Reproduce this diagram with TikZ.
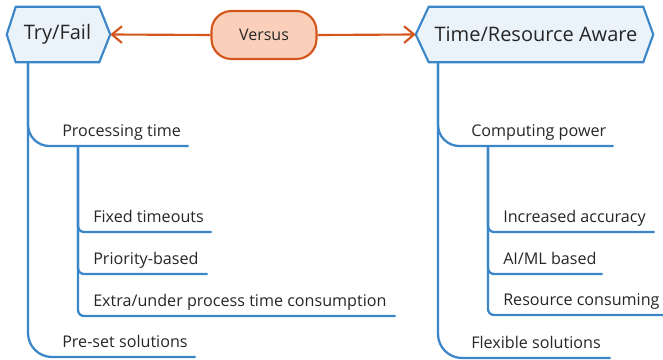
\documentclass[tikz,border=0pt]{standalone}
\usepackage{fontspec}
\setmainfont{Open Sans}
\usetikzlibrary{arrows.meta,backgrounds}
\definecolor{bl}{HTML}{3A86C8}
\definecolor{hexfill}{HTML}{EAF2FA}
\definecolor{org}{HTML}{D4561C}
\definecolor{orgfill}{HTML}{FAD0BA}
\definecolor{txt}{HTML}{262626}
\newlength\pxunit
\setlength\pxunit{0.75pt}
\newcommand{\wbox}[2]{\makebox[#1\pxunit][l]{#2}}
\begin{document}
\begin{tikzpicture}[x=0.75pt,y=-0.75pt,
  hex/.style={draw=bl,fill=hexfill,line width=1.6pt,line join=miter},
  hextext/.style={inner sep=0pt,text=txt,font=\fontsize{15}{17}\selectfont},
  vsnode/.style={draw=org,fill=orgfill,line width=1.6pt,rounded corners=15pt,
     minimum width=78.75pt,minimum height=36pt,text=txt,font=\fontsize{12}{14}\selectfont},
  arr/.style={draw=org,line width=1.6pt,-{Straight Barb[length=7.5pt,width=12.5pt,line width=1.6pt]}},
  item/.style={anchor=south west,inner xsep=0pt,inner ysep=7.1pt,text depth=0pt,
     text=txt,font=\fontsize{12.1}{14}\selectfont},
  br/.style={draw=bl,line width=1.7pt,rounded corners=18pt},
  pbr/.style={draw=bl,line width=1.7pt,rounded corners=16pt},
  sbr/.style={draw=bl,line width=1.7pt,rounded corners=4.5pt}]
\useasboundingbox (0,0) rectangle (663,360);

% hexagon nodes
\node[hextext,minimum width=62.25pt,minimum height=41.25pt] (tf) at (57.5,34.5) {Try/Fail};
\node[hextext,minimum width=160.5pt,minimum height=41.25pt] (tr) at (536,34.5) {Time/Resource Aware};
\coordinate (tfl) at ([xshift=-6.75pt]tf.west);
\coordinate (tfr) at ([xshift=8.25pt]tf.east);
\coordinate (trl) at ([xshift=-9.75pt]tr.west);
\coordinate (trr) at ([xshift=7.5pt]tr.east);
\begin{scope}[on background layer]
\draw[hex] (tf.north west) -- (tf.north east) -- (tfr) -- (tf.south east) -- (tf.south west) -- (tfl) -- cycle;
\draw[hex] (tr.north west) -- (tr.north east) -- (trr) -- (tr.south east) -- (tr.south west) -- (trl) -- cycle;
\end{scope}

% versus
\node[vsnode] (vs) at (264,35) {Versus};
\draw[arr] (vs.west) -- (tfr);
\draw[arr] (vs.east) -- (trl);

% left items
\node[item] (pt) at (62,146) {\wbox{126}{Processing time}};
\node[item] (ft) at (93,232) {\wbox{118}{Fixed timeouts}};
\node[item] (pb) at (93,274) {\wbox{114}{Priority-based}};
\node[item] (ex) at (93,316) {\wbox{302}{Extra/under process time consumption}};
\node[item] (ps) at (62,357) {\wbox{133}{Pre-set solutions}};

% right items
\node[item] (cp) at (471,146) {\wbox{142}{Computing power}};
\node[item] (ia) at (503,232) {\wbox{151}{Increased accuracy}};
\node[item] (ai) at (503,274) {\wbox{99}{AI/ML based}};
\node[item] (rc) at (503,315) {\wbox{165}{Resource consuming}};
\node[item] (fs) at (471,358) {\wbox{139}{Flexible solutions}};

% left tree
\coordinate (lt) at (28,62);
\coordinate (ls) at (78,146);
\draw[pbr] (lt) |- (pt.south east);
\draw[br] (lt) |- (ps.south east);
\draw[sbr] (ls) |- (ft.south east);
\draw[sbr] (ls) |- (pb.south east);
\draw[sbr] (ls) |- (ex.south east);

% right tree
\coordinate (rt) at (438,62);
\coordinate (rs) at (488,146);
\draw[pbr] (rt) |- (cp.south east);
\draw[br] (rt) |- (fs.south east);
\draw[sbr] (rs) |- (ia.south east);
\draw[sbr] (rs) |- (ai.south east);
\draw[sbr] (rs) |- (rc.south east);
\end{tikzpicture}
\end{document}
